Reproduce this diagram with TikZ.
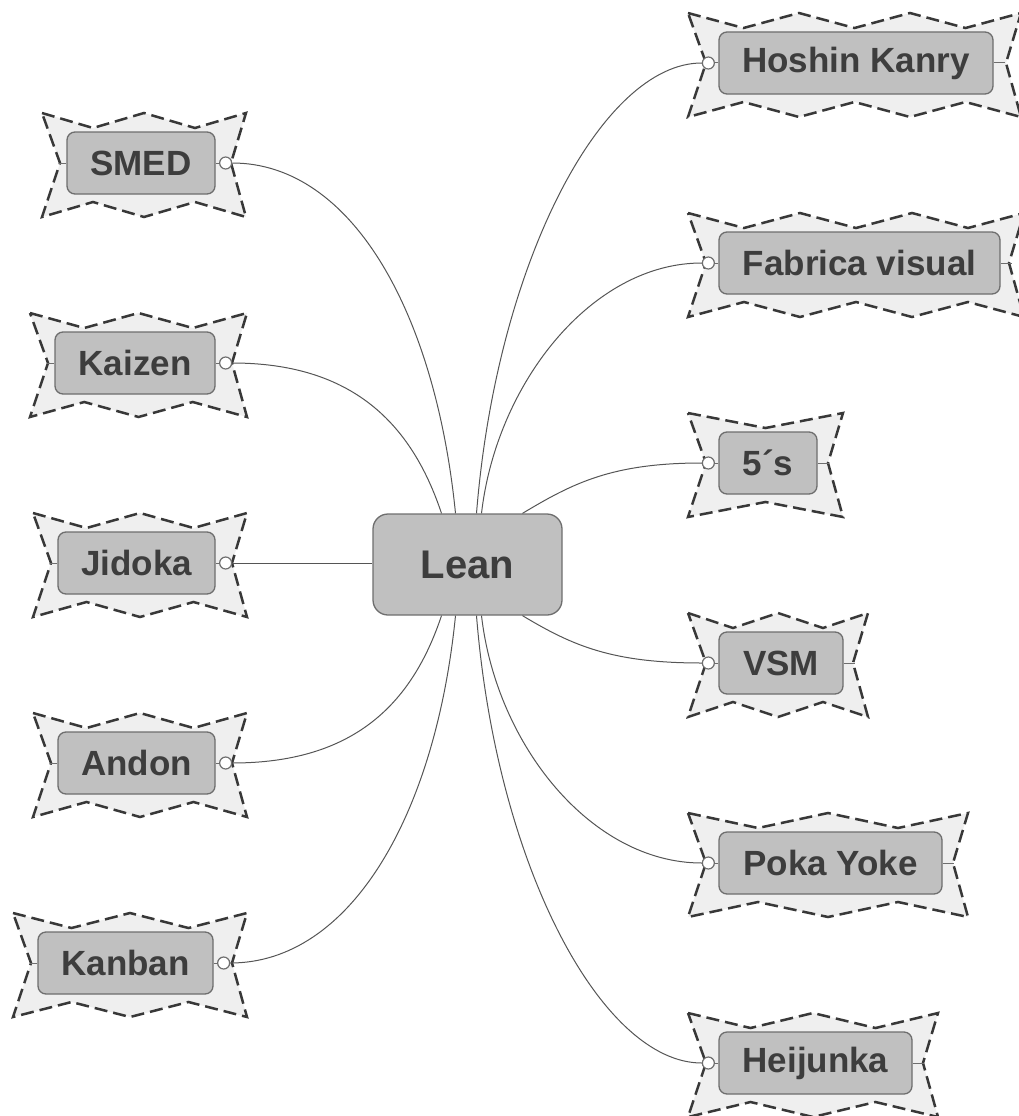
\documentclass[tikz,border=0pt]{standalone}
\usepackage{fontspec}
\setmainfont{Liberation Sans}
\definecolor{framefill}{HTML}{EFEFEF}
\definecolor{framegray}{HTML}{383838}
\definecolor{boxfill}{HTML}{C0C0C0}
\definecolor{boxline}{HTML}{6E6E6E}
\definecolor{textgray}{HTML}{3D3D3D}
\definecolor{linegray}{HTML}{555555}

% Jagged dashed frame behind a topic box:
% #1 = left x, #2 = right x, #3 = centre y, #4 = number of zigzag segments (even)
\newcommand\zigframe[4]{%
  \pgfmathsetmacro\zfw{(#2-#1)/#4}%
  \draw[zframe] ({#1},{#3-50})
    \foreach \i in {1,...,#4}{ -- ({#1+\i*\zfw},{#3-50+15*mod(\i,2)}) }
    -- ({#2-15},{#3}) -- ({#2},{#3+54})
    \foreach \i in {1,...,#4}{ -- ({#2-\i*\zfw},{#3+54-15*mod(\i,2)}) }
    -- ({#1+18},{#3}) -- cycle;}

\begin{document}
\begin{tikzpicture}[x=1pt,y=-1pt,
  zframe/.style={draw=framegray, fill=framefill, line width=2.5pt,
    dash pattern=on 13pt off 6pt, line join=miter},
  topic/.style={draw=boxline, fill=boxfill, line width=1.3pt, rounded corners=8pt,
    inner sep=0pt, minimum height=62pt, text=textgray,
    font=\bfseries\fontsize{35}{40}\selectfont},
  knob/.style={circle, draw=boxline, fill=white, line width=1.2pt, inner sep=0pt,
    minimum size=12pt},
  link/.style={draw=linegray, line width=1pt},
  stub/.style={draw=boxline, line width=1pt}]

\useasboundingbox (0,0) rectangle (1018,1116);

% frames
\zigframe{42}{246}{163}{4}
\zigframe{30}{247}{363}{4}
\zigframe{33}{247}{563}{4}
\zigframe{33}{247}{763}{4}
\zigframe{13}{247}{963}{4}
\zigframe{688}{1021}{63}{6}
\zigframe{688}{1024}{263}{6}
\zigframe{688}{843}{463}{2}
\zigframe{688}{868}{663}{4}
\zigframe{688}{968}{863}{4}
\zigframe{688}{938}{1063}{4}

% central topic
\node[topic, minimum width=189pt, minimum height=101pt, rounded corners=15pt,
  font=\bfseries\fontsize{40}{46}\selectfont] (lean) at (467.5,564.5) {Lean};

% left topics
\node[topic, minimum width=148pt] (smed)   at (141,163)   {SMED};
\node[topic, minimum width=160pt] (kaizen) at (135,363)   {Kaizen};
\node[topic, minimum width=157pt] (jidoka) at (136.5,563) {Jidoka};
\node[topic, minimum width=157pt] (andon)  at (136.5,763) {Andon};
\node[topic, minimum width=175pt] (kanban) at (125.5,963) {Kanban};

% right topics
\node[topic, minimum width=274pt] (hoshin)   at (856,63)     {Hoshin Kanry};
\node[topic, minimum width=281pt] (fabrica)  at (859.5,263)  {Fabrica visual};
\node[topic, minimum width=98pt]  (cincos)   at (768,463)    {5´s};
\node[topic, minimum width=124pt] (vsm)      at (781,663)    {VSM};
\node[topic, minimum width=223pt] (pokayoke) at (830.5,863)  {Poka Yoke};
\node[topic, minimum width=193pt] (heijunka) at (815.5,1063) {Heijunka};

% knobs and stubs, left side
\foreach \n in {smed,kaizen,jidoka,andon,kanban}{
  \node[knob] (\n k) at ([xshift=10pt]\n.east) {};
  \draw[stub] (\n.east) -- (\n k.west);
  \draw[stub] ([xshift=-7pt]\n.west) -- (\n.west);
}
% knobs and stubs, right side
\foreach \n in {hoshin,fabrica,cincos,vsm,pokayoke,heijunka}{
  \node[knob] (\n k) at ([xshift=-10pt]\n.west) {};
  \draw[stub] (\n.west) -- (\n k.east);
  \draw[stub] (\n.east) -- ([xshift=11pt]\n.east);
}

% connectors, left
\draw[link] (smedk.east) .. controls +(120,0) and +(-20,-200) .. ([xshift=-12pt]lean.north);
\draw[link] (kaizenk.east) .. controls +(120,0) and +(-30,-90) .. ([xshift=-26pt]lean.north);
\draw[link] (jidokak.east) -- (jidokak.east -| lean.west);
\draw[link] (andonk.east) .. controls +(120,0) and +(-30,90) .. ([xshift=-26pt]lean.south);
\draw[link] (kanbank.east) .. controls +(120,0) and +(-20,200) .. ([xshift=-12pt]lean.south);

% connectors, right
\draw[link] (hoshink.west) .. controls +(-100,0) and +(20,-250) .. ([xshift=9pt]lean.north);
\draw[link] (fabricak.west) .. controls +(-110,0) and +(15,-130) .. ([xshift=14pt]lean.north);
\draw[link] (cincosk.west) .. controls +(-90,0) and +(50,-30) .. ([xshift=55pt]lean.north);
\draw[link] (vsmk.west) .. controls +(-90,0) and +(50,30) .. ([xshift=55pt]lean.south);
\draw[link] (pokayokek.west) .. controls +(-110,0) and +(15,130) .. ([xshift=14pt]lean.south);
\draw[link] (heijunkak.west) .. controls +(-100,0) and +(20,250) .. ([xshift=9pt]lean.south);

\end{tikzpicture}
\end{document}
